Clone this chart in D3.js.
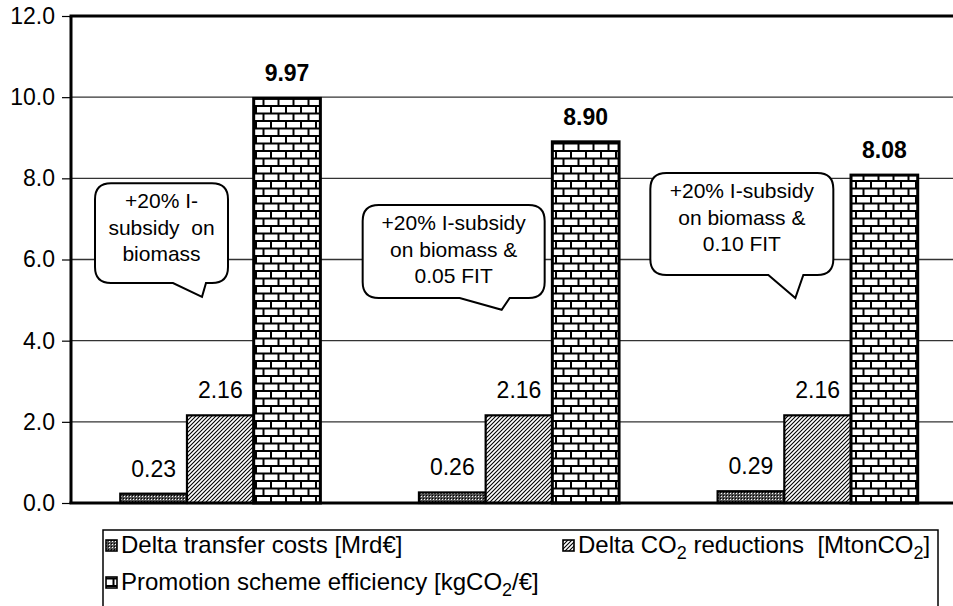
<!DOCTYPE html>
<html>
<head>
<meta charset="utf-8">
<script src="https://cdn.jsdelivr.net/npm/d3@7/dist/d3.min.js"></script>
<style>
  html, body { margin: 0; padding: 0; background: #fff; overflow: hidden; }
  text { font-family: "Liberation Sans", Arial, sans-serif; fill: #000; }
</style>
</head>
<body>
<svg id="chart" width="953" height="606"></svg>
<script>
// ---------------- data ----------------
const categories = [
  "+20% I-subsidy on biomass",
  "+20% I-subsidy on biomass & 0.05 FIT",
  "+20% I-subsidy on biomass & 0.10 FIT"
];
const transferCosts = [0.23, 0.26, 0.29];   // Delta transfer costs [Mrd€]
const co2Reductions = [2.16, 2.16, 2.16];   // Delta CO2 reductions [MtonCO2]
const efficiency = [9.97, 8.90, 8.08];      // Promotion scheme efficiency [kgCO2/€]
const yTicks = [0, 2, 4, 6, 8, 10, 12];
const calloutLines = [
  ["+20% I-", "subsidy  on", "biomass"],
  ["+20% I-subsidy", "on biomass &", "0.05 FIT"],
  ["+20% I-subsidy", "on biomass &", "0.10 FIT"]
];
// callout layout (box in slot-relative px, vertical extents in data units)
const calloutLayout = [
  { left: 24, width: 133, top: 7.88, bottom: 5.42, tailL: 78, tailTip: 107, tailR: 111, tipY: 5.08 },
  { left: -7, width: 182, top: 7.34, bottom: 5.05, tailL: 97, tailTip: 139, tailR: 147, tipY: 4.76 },
  { left: -18, width: 183, top: 8.13, bottom: 5.62, tailL: 118, tailTip: 145, tailR: 153, tipY: 5.05 }
];

// ---------------- setup ----------------
const svg = d3.select("#chart");
const plot = { left: 71, right: 967, top: 16, bottom: 503 };

const y = d3.scaleLinear().domain([0, 12]).range([plot.bottom, plot.top]);
const x0 = d3.scaleBand().domain(categories).range([plot.left, plot.right])
  .paddingInner(0.33).paddingOuter(0.165);
const seriesIdx = [0, 1, 2];
const x1 = d3.scaleBand().domain(seriesIdx).range([0, x0.bandwidth()]);
const slotStart = c => x0(c) - x0.step() * 0.165;

// ---------------- patterns ----------------
const defs = svg.append("defs");
const pDots = defs.append("pattern").attr("id", "pDots")
  .attr("patternUnits", "userSpaceOnUse").attr("width", 3).attr("height", 3);
pDots.append("rect").attr("width", 3).attr("height", 3).attr("fill", "#555");
pDots.append("rect").attr("x", 1).attr("y", 1).attr("width", 1).attr("height", 1).attr("fill", "#fff");
pDots.append("rect").attr("x", 0).attr("y", 0).attr("width", 1).attr("height", 1).attr("fill", "#000");

const pHatch = defs.append("pattern").attr("id", "pHatch")
  .attr("patternUnits", "userSpaceOnUse").attr("width", 4).attr("height", 4);
pHatch.append("rect").attr("width", 4).attr("height", 4).attr("fill", "#fff");
pHatch.append("path").attr("d", "M-1,1 l2,-2 M0,4 l4,-4 M3,5 l2,-2")
  .attr("stroke", "#000").attr("stroke-width", 1.1);

const pBrick = defs.append("pattern").attr("id", "pBrick")
  .attr("patternUnits", "userSpaceOnUse").attr("width", 15).attr("height", 15);
pBrick.append("rect").attr("width", 15).attr("height", 15).attr("fill", "#000");
pBrick.append("rect").attr("x", 2).attr("y", 2).attr("width", 13).attr("height", 5.5).attr("fill", "#fff");
pBrick.append("rect").attr("x", -5.5).attr("y", 9.5).attr("width", 13).attr("height", 5.5).attr("fill", "#fff");
pBrick.append("rect").attr("x", 9.5).attr("y", 9.5).attr("width", 13).attr("height", 5.5).attr("fill", "#fff");

const fills = ["url(#pDots)", "url(#pHatch)", "url(#pBrick)"];

// ---------------- grid ----------------
svg.append("g").selectAll("line").data(yTicks.filter(t => t > 0 && t < 12)).join("line")
  .attr("x1", plot.left).attr("x2", plot.right)
  .attr("y1", d => y(d)).attr("y2", d => y(d))
  .attr("stroke", "#333").attr("stroke-width", 1.3);

// axis ticks + labels
const yAxis = d3.axisLeft(y).tickValues(yTicks).tickFormat(d3.format(".1f")).tickSize(9).tickPadding(7);
const ga = svg.append("g").attr("transform", `translate(${plot.left},0)`).call(yAxis);
ga.select(".domain").remove();
ga.selectAll(".tick line").attr("stroke", "#000").attr("stroke-width", 1.2);
ga.selectAll(".tick text").style("font-size", "23px").attr("fill", "#000");

// ---------------- callouts ----------------
const r = 16;
function calloutPath(c, L) {
  const s = slotStart(c);
  const xl = s + L.left, xr = xl + L.width;
  const yt = y(L.top), yb = y(L.bottom);
  const tl = xl + L.tailL, tt = xl + L.tailTip, tr = xl + L.tailR, ty = y(L.tipY);
  return `M${xl + r},${yt} L${xr - r},${yt} Q${xr},${yt} ${xr},${yt + r}` +
    ` L${xr},${yb - r} Q${xr},${yb} ${xr - r},${yb}` +
    ` L${tr},${yb} L${tt},${ty} L${tl},${yb}` +
    ` L${xl + r},${yb} Q${xl},${yb} ${xl},${yb - r}` +
    ` L${xl},${yt + r} Q${xl},${yt} ${xl + r},${yt} Z`;
}
const gc = svg.append("g");
categories.forEach((c, i) => {
  const L = calloutLayout[i];
  gc.append("path").attr("d", calloutPath(c, L))
    .attr("fill", "#fff").attr("stroke", "#000").attr("stroke-width", 2);
  const cx = slotStart(c) + L.left + L.width / 2;
  const t0 = y(L.top) + 25;
  gc.append("g").selectAll("text").data(calloutLines[i]).join("text")
    .attr("x", cx).attr("y", (d, j) => t0 + j * 26.5)
    .attr("text-anchor", "middle").style("font-size", "21px")
    .style("white-space", "pre").attr("xml:space", "preserve")
    .text(d => d);
});

// ---------------- bars ----------------
const seriesVals = [transferCosts, co2Reductions, efficiency];
const gb = svg.append("g");
categories.forEach((c, i) => {
  seriesIdx.forEach(s => {
    const v = seriesVals[s][i];
    gb.append("rect")
      .attr("x", x0(c) + x1(s)).attr("width", x1.bandwidth())
      .attr("y", y(v)).attr("height", y(0) - y(v))
      .attr("fill", fills[s]).attr("stroke", "#000")
      .attr("stroke-width", s === 2 ? 3 : 2.2);
    gb.append("text")
      .attr("x", x0(c) + x1(s) + x1.bandwidth() / 2)
      .attr("y", y(v) - 17)
      .attr("text-anchor", "middle")
      .style("font-size", "23px")
      .style("font-weight", s === 2 ? "bold" : "normal")
      .text(d3.format(".2f")(v));
  });
});

// ---------------- frame ----------------
svg.append("line").attr("x1", plot.left - 1.5).attr("x2", 953).attr("y1", plot.top).attr("y2", plot.top)
  .attr("stroke", "#000").attr("stroke-width", 3);
svg.append("line").attr("x1", plot.left).attr("x2", plot.left).attr("y1", plot.top).attr("y2", plot.bottom)
  .attr("stroke", "#000").attr("stroke-width", 3);
svg.append("line").attr("x1", plot.left - 1.5).attr("x2", 953).attr("y1", plot.bottom).attr("y2", plot.bottom)
  .attr("stroke", "#000").attr("stroke-width", 3);

// ---------------- legend ----------------
const lg = svg.append("g");
lg.append("rect").attr("x", 103).attr("y", 530).attr("width", 835).attr("height", 110)
  .attr("fill", "#fff").attr("stroke", "#000").attr("stroke-width", 1.5);
const legendItems = [
  { x: 106, y: 553, fill: fills[0], parts: [["Delta transfer costs [Mrd€]", false]] },
  { x: 563, y: 553, fill: fills[1], parts: [["Delta CO", false], ["2", true], [" reductions  [MtonCO", false], ["2", true], ["]", false]] },
  { x: 106, y: 590, fill: fills[2], parts: [["Promotion scheme efficiency [kgCO", false], ["2", true], ["/€]", false]] }
];
legendItems.forEach(it => {
  lg.append("rect").attr("x", it.x).attr("y", it.y - 13).attr("width", 11).attr("height", 11)
    .attr("fill", it.fill).attr("stroke", "#000").attr("stroke-width", 1.6);
  const t = lg.append("text").attr("x", it.x + 15).attr("y", it.y)
    .style("font-size", "24px").attr("xml:space", "preserve");
  it.parts.forEach(([s, sub], k) => {
    const prevSub = k > 0 && it.parts[k - 1][1];
    const ts = t.append("tspan").text(s);
    if (sub) ts.attr("dy", 6).style("font-size", "18px");
    else if (prevSub) ts.attr("dy", -6);
  });
});
</script>
</body>
</html>
